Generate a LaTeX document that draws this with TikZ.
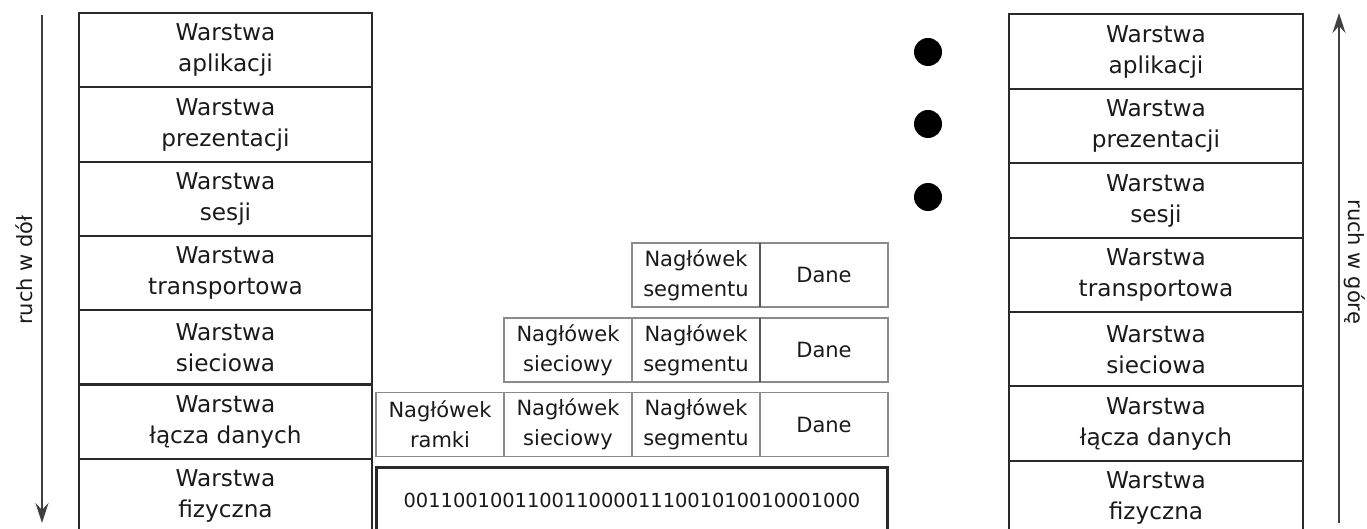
\documentclass[tikz,border=0pt]{standalone}
\usepackage{fontspec}
\setmainfont{DejaVu Sans}
\usetikzlibrary{arrows.meta}
\definecolor{ink}{HTML}{1A1A1A}
\definecolor{frame}{HTML}{2A2A2A}
\definecolor{cellline}{HTML}{8A8A8A}
\tikzset{
  layer/.style={draw=frame, line width=1pt, inner sep=0pt, outer sep=0pt,
    minimum width=146.75pt, minimum height=37.2pt, align=center, text=ink,
    font=\fontsize{11.6}{15.5}\selectfont},
  cell/.style={draw=cellline, line width=0.8pt, inner sep=0pt, outer sep=0pt,
    minimum width=64pt, minimum height=32pt, align=center, text=ink,
    font=\fontsize{10.5}{15}\selectfont},
  bits/.style={draw=frame, line width=1.4pt, inner sep=0pt, outer sep=0pt,
    minimum width=255.5pt, minimum height=32.5pt, text=ink,
    font=\fontsize{9.7}{12}\selectfont},
  flow/.style={draw=black!75, line width=0.85pt, -{Stealth[length=10pt,width=6.5pt,inset=3.5pt]}},
  flowlabel/.style={text=ink, inner sep=0pt, font=\fontsize{10.5}{12}\selectfont},
  dot/.style={circle, fill=black, inner sep=0pt, minimum size=14pt}
}
\begin{document}
\begin{tikzpicture}[x=0.5pt,y=-0.5pt]
\useasboundingbox (0,0) rectangle (1367,529);
\begin{scope}
\clip (0,0) rectangle (1367,529);

% sending stack (left)
\node[layer] (l1) at (225.5,50.2)  {Warstwa\\aplikacji};
\node[layer] (l2) at (225.5,124.5) {Warstwa\\prezentacji};
\node[layer] (l3) at (225.5,198.8) {Warstwa\\sesji};
\node[layer] (l4) at (225.5,273.1) {Warstwa\\transportowa};
\node[layer] (l5) at (225.5,347.4) {Warstwa\\sieciowa};
\node[layer] (l6) at (225.5,421.7) {Warstwa\\łącza danych};
\node[layer] (l7) at (225.5,496.0) {Warstwa\\fizyczna};

% receiving stack (right)
\node[layer] (r1) at (1156,51.7)  {Warstwa\\aplikacji};
\node[layer] (r2) at (1156,126.1) {Warstwa\\prezentacji};
\node[layer] (r3) at (1156,200.5) {Warstwa\\sesji};
\node[layer] (r4) at (1156,274.9) {Warstwa\\transportowa};
\node[layer] (r5) at (1156,349.3) {Warstwa\\sieciowa};
\node[layer] (r6) at (1156,423.7) {Warstwa\\łącza danych};
\node[layer] (r7) at (1156,498.1) {Warstwa\\fizyczna};

% upper layers: nothing added
\node[dot] (d1) at (928,52)  {};
\node[dot] (d2) at (928,124) {};
\node[dot] (d3) at (928,197) {};

% transport layer: segment
\node[cell] (ts) at (696,275) {Nagłówek\\segmentu};
\node[cell] (td) at (824,275) {Dane};

% network layer: packet
\node[cell] (ns) at (568,350) {Nagłówek\\sieciowy};
\node[cell] (nt) at (696,350) {Nagłówek\\segmentu};
\node[cell] (nd) at (824,350) {Dane};

% data link layer: frame
\node[cell] (fr) at (440,424.5) {Nagłówek\\ramki};
\node[cell] (fn) at (568,424.5) {Nagłówek\\sieciowy};
\node[cell] (ft) at (696,424.5) {Nagłówek\\segmentu};
\node[cell] (fd) at (824,424.5) {Dane};

% darker borders in front of the payload
\draw[draw=black!65, line width=1.3pt] (ts.north east) -- (ts.south east);
\draw[draw=black!65, line width=1.3pt] (nt.north east) -- (nt.south east);

% physical layer: bit stream
\node[bits] (ph) at (632,500) {0011001001100110000111001010010001000};

% direction of travel
\coordinate (ldTop) at (42,15);
\coordinate (ldBot) at (42,523);
\coordinate (ruBot) at (1339,523);
\coordinate (ruTop) at (1339,13);
\draw[flow] (ldTop) -- (ldBot);
\draw[flow] (ruBot) -- (ruTop);
\node[flowlabel, rotate=90] (down) at (24,270) {ruch w dół};
\node[flowlabel, rotate=-90] (up) at (1355,262) {ruch w górę};
\end{scope}
\end{tikzpicture}
\end{document}
